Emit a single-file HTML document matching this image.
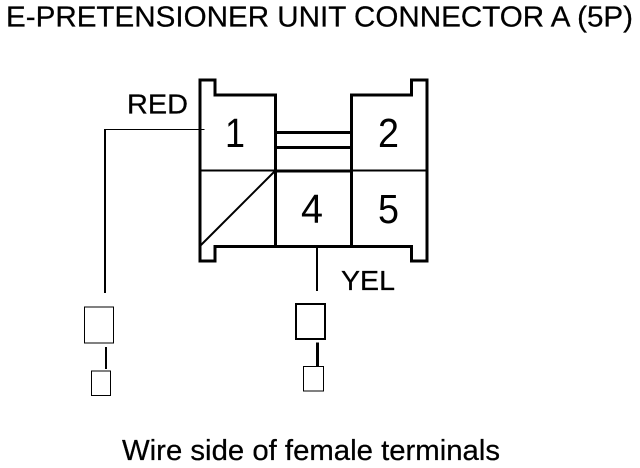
<!DOCTYPE html>
<html>
<head>
<meta charset="utf-8">
<style>
html,body{margin:0;padding:0;background:#fff;}
svg{display:block;}
text{font-family:"Liberation Sans",Arial,sans-serif;fill:#000;stroke:#000;stroke-width:.25px;}
</style>
</head>
<body>
<svg width="640" height="468" viewBox="0 0 640 468" xmlns="http://www.w3.org/2000/svg">
<rect width="640" height="468" fill="#fff"/>
<text x="6" y="26.500" font-size="28.500" textLength="627" lengthAdjust="spacingAndGlyphs">E-PRETENSIONER UNIT CONNECTOR A (5P)</text>
<g fill="none" stroke="#000" stroke-linecap="square" shape-rendering="crispEdges">
<path stroke-width="3" d="M200 80H215V95H275.500V246"/>
<path stroke-width="3" d="M351.500 246V95H411.500V80H427V261H411.500V246.500H215V261H200V80"/>
<path stroke-width="3" d="M276 132.500H351M276 147.500H351M276 171H351"/>
<path stroke-width="2" d="M200 170.500H427"/>
<path stroke-width="2" d="M317 248V290"/>
<path stroke-width="1" d="M105 129.500H204"/>
<path stroke-width="2" d="M105 130V292"/>
<rect x="84.500" y="307" width="29" height="36" stroke-width="1"/>
<path stroke-width="2" d="M106 348V368"/>
<rect x="91.500" y="371" width="19" height="24.500" stroke-width="1"/>
<rect x="296" y="304" width="29" height="35" stroke-width="2"/>
<path stroke-width="3" d="M317.500 344V365"/>
<rect x="303.500" y="366.500" width="20" height="24.500" stroke-width="1"/>
</g>
<path d="M275 171L200 246" fill="none" stroke="#000" stroke-width="2"/>
<g style="stroke-width:0">
<text x="225" y="147" font-size="41" textLength="20" lengthAdjust="spacingAndGlyphs" style="stroke-width:0">1</text>
<text x="378" y="147" font-size="41" textLength="21" lengthAdjust="spacingAndGlyphs" style="stroke-width:0">2</text>
<text x="301" y="223" font-size="41" textLength="22" lengthAdjust="spacingAndGlyphs" style="stroke-width:0">4</text>
<text x="378" y="223" font-size="41" textLength="21" lengthAdjust="spacingAndGlyphs" style="stroke-width:0">5</text>
</g>
<text x="127" y="113.500" font-size="28" textLength="61" lengthAdjust="spacingAndGlyphs">RED</text>
<text x="341" y="290" font-size="28" textLength="54" lengthAdjust="spacingAndGlyphs">YEL</text>
<text x="122" y="460" font-size="28.500" textLength="378" lengthAdjust="spacingAndGlyphs">Wire side of female terminals</text>
</svg>
</body>
</html>
